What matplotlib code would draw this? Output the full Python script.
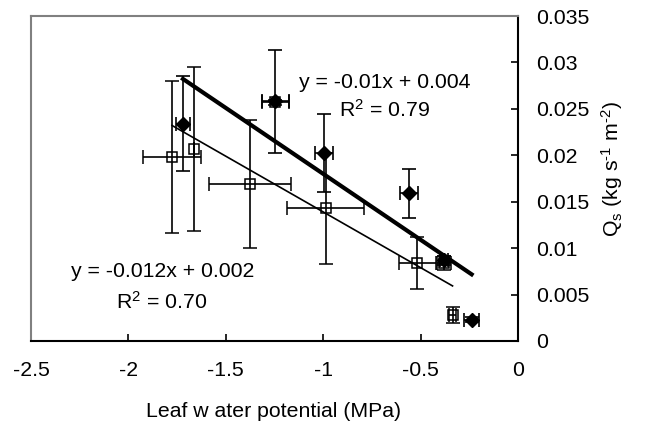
import matplotlib
matplotlib.use("Agg")
import matplotlib.pyplot as plt
import numpy as np

plt.rcParams['font.family'] = ['Liberation Sans', 'DejaVu Sans']
plt.rcParams['mathtext.fontset'] = 'custom'
plt.rcParams['mathtext.rm'] = 'Liberation Sans'
plt.rcParams['mathtext.it'] = 'Liberation Sans'

# Open squares series
sq_x = [-1.776, -1.665, -1.377, -1.245, -0.988, -0.516, -0.379, -0.336]
sq_y = [0.0198, 0.0207, 0.0169, 0.0257, 0.0143, 0.0084, 0.0084, 0.0028]
sq_xerr = [0.148, 0.0, 0.21, 0.068, 0.198, 0.096, 0.037, 0.02]
sq_yerr = [0.0082, 0.0088, 0.0069, 0.0003, 0.0060, 0.0028, 0.0008, 0.0009]

# Filled diamonds series
dia_x = [-1.72, -1.245, -0.996, -0.559, -0.379, -0.238]
dia_y = [0.0234, 0.0258, 0.0203, 0.0159, 0.0087, 0.0023]
dia_xerr = [0.034, 0.068, 0.047, 0.046, 0.02, 0.037]
dia_yerr = [0.0051, 0.0055, 0.0042, 0.0026, 0.0005, 0.0003]

# Trend lines (slope, intercept)
dia_fit = (-0.0142, 0.0038)
sq_fit = (-0.0120, 0.0019)

xticks = [-2.5, -2, -1.5, -1, -0.5, 0]
xticklabels = ["-2.5", "-2", "-1.5", "-1", "-0.5", "0"]
yticks = [0, 0.005, 0.01, 0.015, 0.02, 0.025, 0.03, 0.035]
yticklabels = ["0", "0.005", "0.01", "0.015", "0.02", "0.025", "0.03", "0.035"]

fig = plt.figure(figsize=(6.46, 4.34), dpi=100)
ax = fig.add_axes([31/646, 1-341/434, (518-31)/646, (341-16)/434])

# squares
ax.errorbar(sq_x, sq_y, xerr=sq_xerr, yerr=sq_yerr, fmt='s', ms=7.5,
            mfc='none', mec='black', mew=1.1, ecolor='black', elinewidth=1.2,
            capsize=4.7, capthick=1.2, zorder=3)
# diamonds
ax.errorbar(dia_x, dia_y, xerr=dia_xerr, yerr=dia_yerr, fmt='D', ms=7,
            mfc='black', mec='black', ecolor='black', elinewidth=1.2,
            capsize=4.7, capthick=1.2, zorder=4)

# trend lines
xd = np.array([min(dia_x), max(dia_x)])
ax.plot(xd, dia_fit[0]*xd + dia_fit[1], color='black', lw=3, zorder=5)
xs = np.array([min(sq_x), max(sq_x)])
ax.plot(xs, sq_fit[0]*xs + sq_fit[1], color='black', lw=1.2, zorder=5)

fs = 15.3
ax.text(-0.684, 0.02721, "y = -0.01x + 0.004", fontsize=fs, ha='center', va='baseline')
ax.text(-0.684, 0.02416, "R$^2$ = 0.79", fontsize=fs, ha='center', va='baseline')
ax.text(-1.826, 0.00686, "y = -0.012x + 0.002", fontsize=fs, ha='center', va='baseline')
ax.text(-1.83, 0.00352, "R$^2$ = 0.70", fontsize=fs, ha='center', va='baseline')

ax.set_xlim(-2.5, 0)
ax.set_ylim(0, 0.035)
ax.set_xticks(xticks)
ax.set_xticklabels(xticklabels, fontsize=fs)
ax.set_yticks(yticks)
ax.set_yticklabels(yticklabels, fontsize=fs)
ax.yaxis.tick_right()
ax.yaxis.set_label_position('right')
ax.tick_params(axis='x', direction='in', length=5, width=1.2, pad=14.4)
ax.tick_params(axis='y', direction='in', length=5, width=1.2, pad=13)

for s in ['left', 'top']:
    ax.spines[s].set_color('#808080')
    ax.spines[s].set_linewidth(1.5)
for s in ['bottom', 'right']:
    ax.spines[s].set_color('black')
    ax.spines[s].set_linewidth(1.5)

ax.set_xlabel("Leaf w ater potential (MPa)", fontsize=fs)
ax.xaxis.set_label_coords(0.498, -0.218)
ax.set_ylabel("Q$_s$ (kg s$^{\u2010 1}$ m$^{\u2010 2}$)", fontsize=fs)
ax.yaxis.set_label_coords((612-31)/487, 0.53)
ax.yaxis.label.set_va('center')
ax.xaxis.label.set_va('center')

fig.savefig("out.png", dpi=100)
